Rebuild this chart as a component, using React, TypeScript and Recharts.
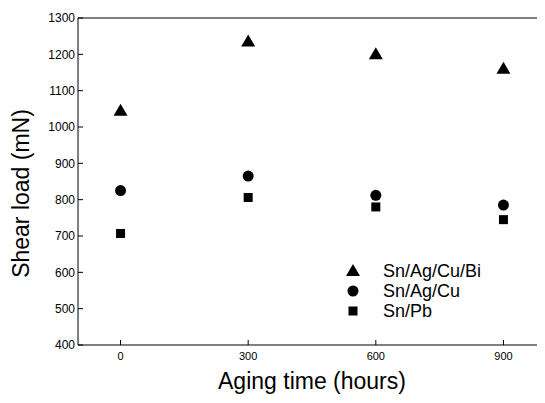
import React from 'react';
import {
  ScatterChart,
  Scatter,
  XAxis,
  YAxis,
  ReferenceLine
} from 'recharts';

// Aging time (hours)
const agingHours = [0, 300, 600, 900];

// Shear load (mN) for each solder
const snAgCuBi = [1045, 1235, 1200, 1160];
const snAgCu = [825, 865, 812, 785];
const snPb = [707, 806, 780, 745];

const xTicks = [0, 300, 600, 900];
const yTicks = [400, 500, 600, 700, 800, 900, 1000, 1100, 1200, 1300];

const toPoints = (values: number[]) =>
  agingHours.map((h, i) => ({ x: h, y: values[i] }));

const Triangle = ({ cx, cy }: any) => (
  <polygon
    points={`${cx},${cy - 7} ${cx - 7},${cy + 5} ${cx + 7},${cy + 5}`}
    fill="#000"
  />
);

const Dot = ({ cx, cy }: any) => <circle cx={cx} cy={cy} r={5.5} fill="#000" />;

const Square = ({ cx, cy }: any) => (
  <rect x={cx - 4.5} y={cy - 4.5} width={9} height={9} fill="#000" />
);

const series = [
  { name: 'Sn/Ag/Cu/Bi', values: snAgCuBi, shape: Triangle },
  { name: 'Sn/Ag/Cu', values: snAgCu, shape: Dot },
  { name: 'Sn/Pb', values: snPb, shape: Square }
];

const font = '"Liberation Sans", Arial, sans-serif';

// legend drawn by hand so the markers match the series
const CustomLegend = () => (
  <svg width={160} height={62}>
    {series.map((s, i) => {
      const Shape = s.shape;
      const cy = 10 + i * 20;
      return (
        <g key={s.name}>
          <Shape cx={8} cy={cy} />
          <text
            x={38}
            y={cy}
            dominantBaseline="central"
            fontFamily={font}
            fontSize={18}
            fill="#000"
          >
            {s.name}
          </text>
        </g>
      );
    })}
  </svg>
);

export default function App() {
  return (
    <div style={{ margin: '-8px 0 0 -8px', width: 560, height: 403, position: 'relative' }}>
      <ScatterChart
        width={560}
        height={403}
        margin={{ top: 18, right: 14, bottom: 0, left: 0 }}
      >
        <XAxis
          type="number"
          dataKey="x"
          domain={[-100, 1000]}
          ticks={xTicks}
          height={58}
          stroke="#000"
          tickSize={-5}
          tickMargin={12}
          tick={{ fill: '#000', fontSize: 11, fontFamily: font }}
          label={{
            value: 'Aging time (hours)',
            position: 'center',
            dy: 7,
            style: { fill: '#000', fontSize: 23, fontFamily: font }
          }}
        />
        <YAxis
          type="number"
          dataKey="y"
          domain={[400, 1300]}
          ticks={yTicks}
          width={78}
          stroke="#000"
          tickSize={-5}
          tickMargin={8}
          tick={{ fill: '#000', fontSize: 12, fontFamily: font }}
          label={{
            value: 'Shear load (mN)',
            angle: -90,
            position: 'center',
            dx: -18,
            dy: 12,
            style: { fill: '#000', fontSize: 23, fontFamily: font, textAnchor: 'middle' }
          }}
        />
        <ReferenceLine y={1300} stroke="#000" ifOverflow="visible" />
        {series.map((s) => (
          <Scatter
            key={s.name}
            name={s.name}
            data={toPoints(s.values)}
            shape={s.shape}
            isAnimationActive={false}
          />
        ))}
      </ScatterChart>
      <div style={{ position: 'absolute', left: 345, top: 261 }}>
        <CustomLegend />
      </div>
    </div>
  );
}
